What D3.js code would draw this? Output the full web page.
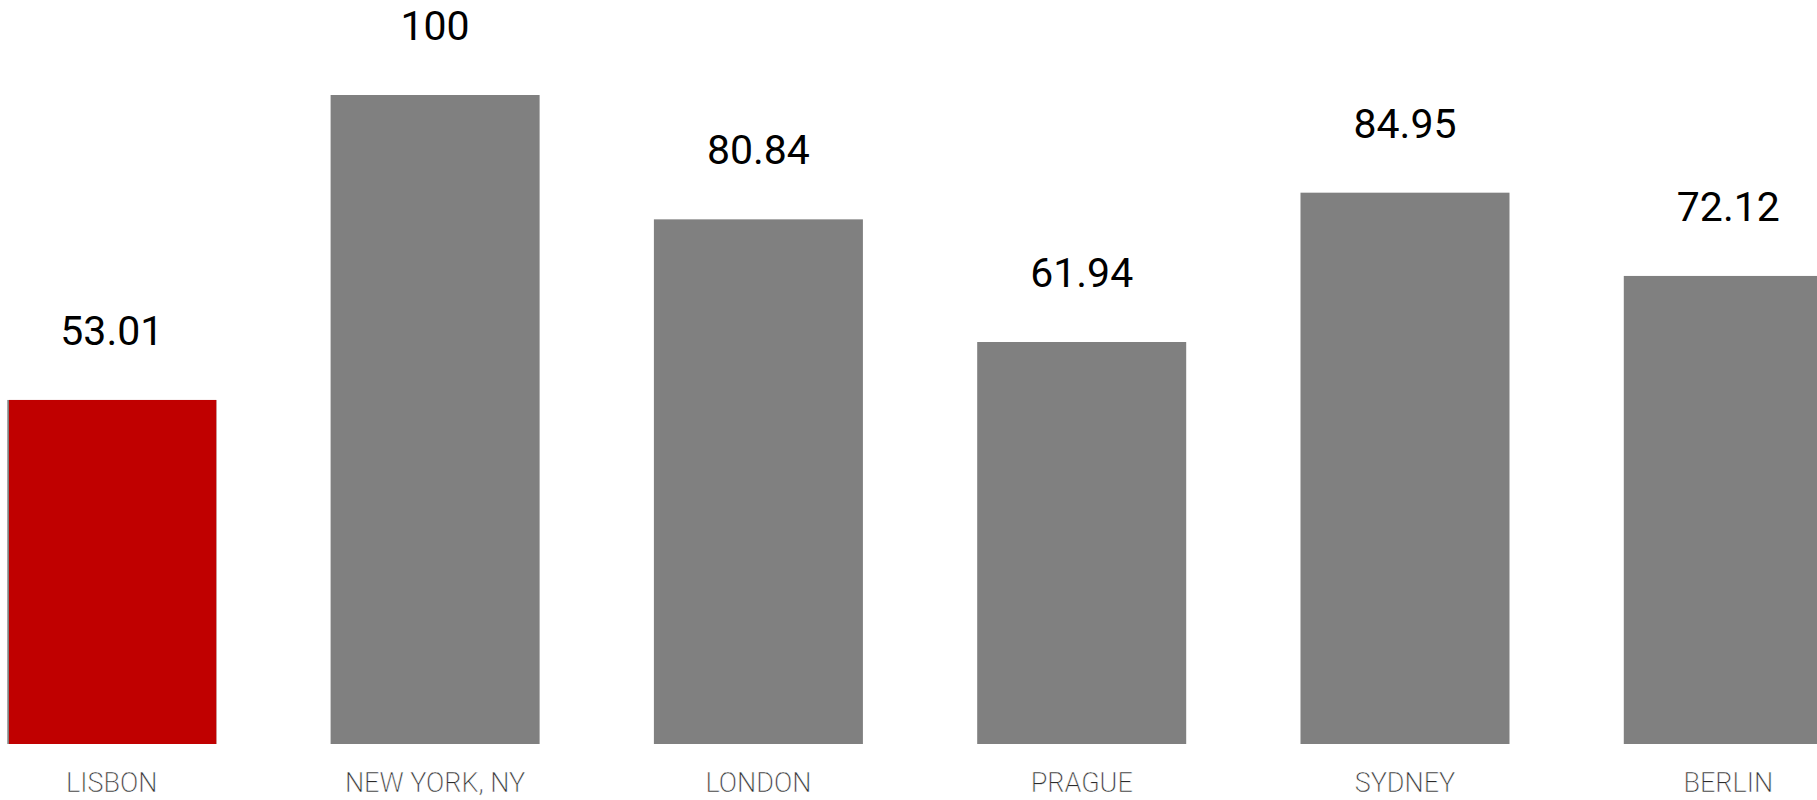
<!DOCTYPE html>
<html>
<head>
<meta charset="utf-8">
<script src="https://cdn.jsdelivr.net/npm/d3@7"></script>
<style>
  html, body { margin: 0; padding: 0; background: #fff; }
  svg { display: block; }
</style>
</head>
<body>
<div id="chart"></div>
<script>
// chart data
const cities = ['LISBON', 'NEW YORK, NY', 'LONDON', 'PRAGUE', 'SYDNEY', 'BERLIN'];
const scores = [53.01, 100, 80.84, 61.94, 84.95, 72.12];
const highlighted = ['LISBON'];

const width = 1817;
const height = 800;

const svg = d3.select('#chart')
  .append('svg')
  .attr('width', width)
  .attr('height', height);

// bars run off the right edge in the original, so the band range does too
const x = d3.scaleBand()
  .domain(cities)
  .range([7.3, 1832.8])
  .paddingInner(0.3535)
  .paddingOuter(0);

const y = d3.scaleLinear()
  .domain([0, 100])
  .range([744, 95]);

const rows = cities.map((c, i) => ({ city: c, value: scores[i] }));

const bar = svg.selectAll('g.bar')
  .data(rows)
  .join('g')
  .attr('class', 'bar');

bar.append('rect')
  .attr('x', d => x(d.city))
  .attr('y', d => y(d.value))
  .attr('width', x.bandwidth())
  .attr('height', d => y(0) - y(d.value))
  .attr('fill', '#808080');

// highlighted city sits over its grey bar, leaving a thin grey edge on the left
bar.filter(d => highlighted.includes(d.city))
  .append('rect')
  .attr('x', d => x(d.city) + 1.7)
  .attr('y', d => y(d.value))
  .attr('width', x.bandwidth() - 1.7)
  .attr('height', d => y(0) - y(d.value))
  .attr('fill', '#c00000');

bar.append('text')
  .attr('x', d => x(d.city) + x.bandwidth() / 2)
  .attr('y', d => y(d.value) - 55)
  .attr('text-anchor', 'middle')
  .style('font-family', 'Roboto, sans-serif')
  .style('font-size', '41px')
  .style('fill', '#000')
  .text(d => d.value);

// no light weight installed, so a thin white stroke shaves the glyphs down
bar.append('text')
  .attr('x', d => x(d.city) + x.bandwidth() / 2)
  .attr('y', 792)
  .attr('text-anchor', 'middle')
  .style('font-family', '"Roboto Light", Roboto, sans-serif')
  .style('font-weight', 300)
  .style('font-size', '27px')
  .style('fill', '#2a2a2a')
  .style('stroke', '#fff')
  .style('stroke-width', 0.45)
  .text(d => d.city);
</script>
</body>
</html>
